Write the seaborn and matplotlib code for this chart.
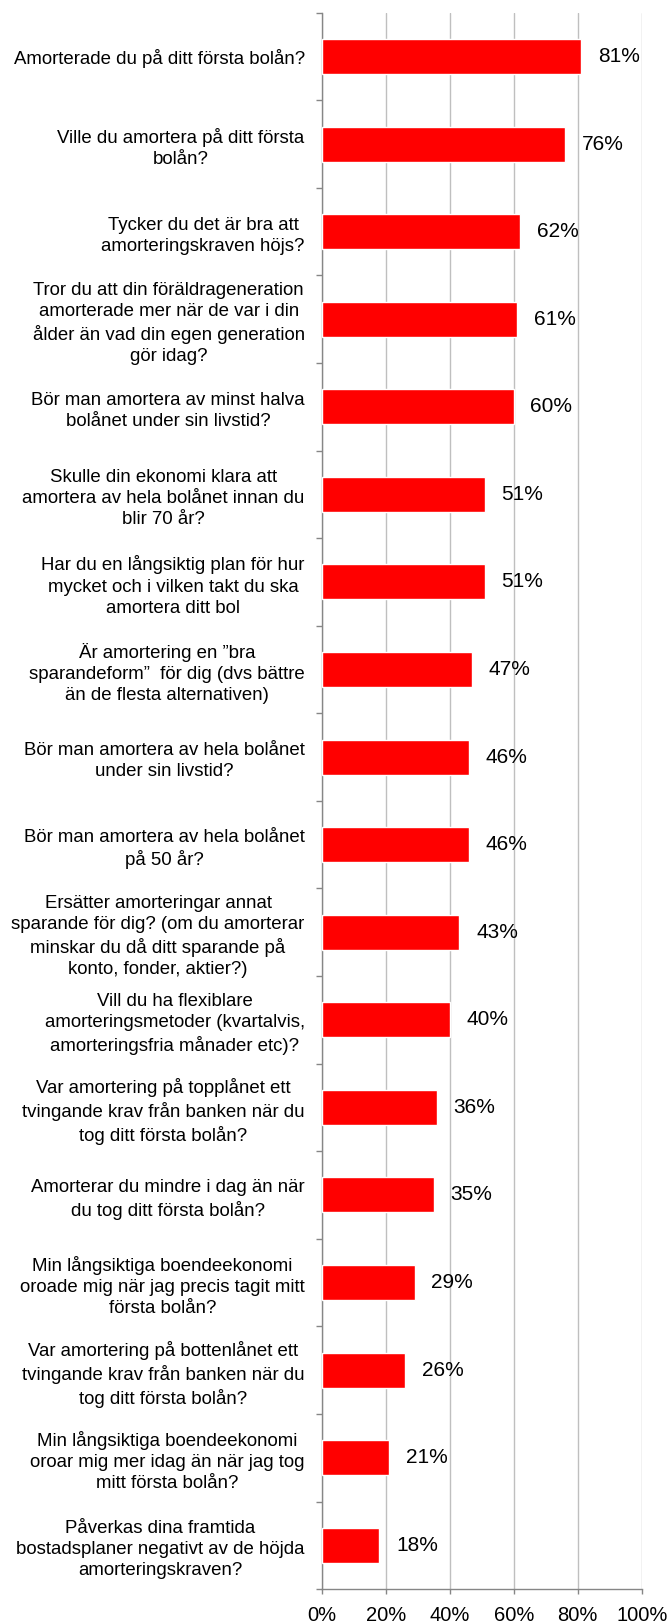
import matplotlib
matplotlib.use("Agg")
import matplotlib.pyplot as plt
import seaborn as sns
import pandas as pd
import numpy as np

# Survey questions (top to bottom) and share answering "yes", in percent
questions = [
    "Amorterade du på ditt första bolån?",
    "Ville du amortera på ditt första\nbolån?",
    "Tycker du det är bra att\namorteringskraven höjs?",
    "Tror du att din föräldrageneration\namorterade mer när de var i din\nålder än vad din egen generation\ngör idag?",
    "Bör man amortera av minst halva\nbolånet under sin livstid?",
    "Skulle din ekonomi klara att\namortera av hela bolånet innan du\nblir 70 år?",
    "Har du en långsiktig plan för hur\nmycket och i vilken takt du ska\namortera ditt bol",
    "Är amortering en \u201dbra\nsparandeform\u201d  för dig (dvs bättre\nän de flesta alternativen)",
    "Bör man amortera av hela bolånet\nunder sin livstid?",
    "Bör man amortera av hela bolånet\npå 50 år?",
    "Ersätter amorteringar annat\nsparande för dig? (om du amorterar\nminskar du då ditt sparande på\nkonto, fonder, aktier?)",
    "Vill du ha flexiblare\namorteringsmetoder (kvartalvis,\namorteringsfria månader etc)?",
    "Var amortering på topplånet ett\ntvingande krav från banken när du\ntog ditt första bolån?",
    "Amorterar du mindre i dag än när\ndu tog ditt första bolån?",
    "Min långsiktiga boendeekonomi\noroade mig när jag precis tagit mitt\nförsta bolån?",
    "Var amortering på bottenlånet ett\ntvingande krav från banken när du\ntog ditt första bolån?",
    "Min långsiktiga boendeekonomi\noroar mig mer idag än när jag tog\nmitt första bolån?",
    "Påverkas dina framtida\nbostadsplaner negativt av de höjda\namorteringskraven?",
]
shares = [81, 76, 62, 61, 60, 51, 51, 47, 46, 46, 43, 40, 36, 35, 29, 26, 21, 18]
x_ticks = [0, 20, 40, 60, 80, 100]
x_tick_labels = ["0%", "20%", "40%", "60%", "80%", "100%"]

sns.set_theme(style="white")
plt.rcParams["font.family"] = ["Liberation Sans", "DejaVu Sans"]

CAT_FS = 13.4
VAL_FS = 15
TICK_FS = 14.5
AXIS_GREY = "#868686"
GRID_GREY = "#bfbfbf"

fig = plt.figure(figsize=(6.69, 16.23), dpi=100)
ax = fig.add_axes([0.4808, 0.0209, 0.4786, 0.9713])

df = pd.DataFrame({"question": questions, "share": shares})
sns.barplot(data=df, x="share", y="question", orient="h", color="#ff0000",
            saturation=1, width=0.4, ax=ax, zorder=3)

ax.set_xlim(0, 100)
ax.set_ylim(len(questions) - 0.5, -0.5)
ax.set_xlabel("")
ax.set_ylabel("")

# x axis: percent ticks with vertical grid
ax.set_xticks(x_ticks)
ax.set_xticklabels(x_tick_labels, fontsize=TICK_FS)
ax.set_axisbelow(True)
ax.xaxis.grid(True, color=GRID_GREY, linewidth=1)
ax.yaxis.grid(False)
ax.tick_params(axis="x", bottom=True, length=3.5, width=1, color=AXIS_GREY,
               pad=9, labelsize=TICK_FS, labelcolor="black")

# y axis: labels at bar centres, tick marks between categories
ax.tick_params(axis="y", which="major", left=False, length=0, pad=12.2,
               labelsize=CAT_FS, labelcolor="black")
ax.set_yticks(np.arange(-0.5, len(questions), 1.0), minor=True)
ax.tick_params(axis="y", which="minor", left=True, length=4.3, width=1,
               color=AXIS_GREY)
for lbl in ax.get_yticklabels():
    lbl.set_horizontalalignment("right")
    lbl.set_multialignment("center")
    lbl.set_linespacing(1.32)

for side in ("top", "right"):
    ax.spines[side].set_visible(False)
for side in ("left", "bottom"):
    ax.spines[side].set_color(AXIS_GREY)
    ax.spines[side].set_linewidth(1)

ax.bar_label(ax.containers[0], labels=[f"{v}%" for v in shares],
             padding=12, fontsize=VAL_FS, color="black")

fig.savefig("out.png", dpi=100)
